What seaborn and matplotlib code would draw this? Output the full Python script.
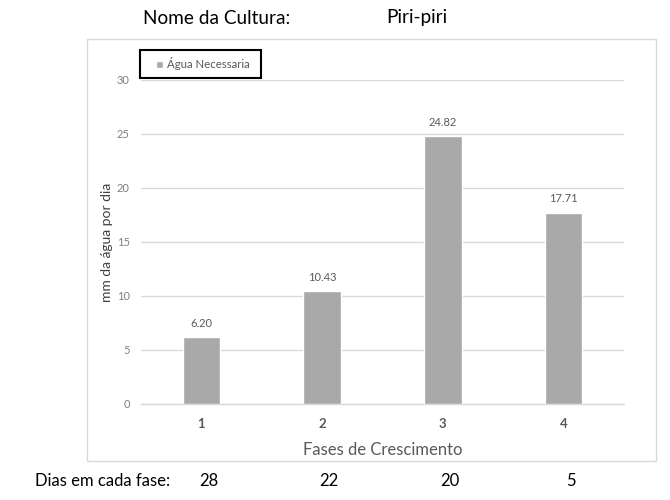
import matplotlib
matplotlib.use("Agg")
import matplotlib.pyplot as plt
from matplotlib.patches import Patch, Rectangle
import seaborn as sns
import pandas as pd

# Dados da cultura
cultura = "Piri-piri"
fases = ["1", "2", "3", "4"]
agua_necessaria = [6.20, 10.43, 24.82, 17.71]
dias_por_fase = [28, 22, 20, 5]
y_ticks = [0, 5, 10, 15, 20, 25, 30]

df = pd.DataFrame({"Fase": fases, "Água Necessaria": agua_necessaria})

sns.set_theme(style="white")
plt.rcParams["font.family"] = ["Lato", "DejaVu Sans"]

W, H = 670, 500
fig = plt.figure(figsize=(W / 100, H / 100), dpi=100)
fig.patch.set_facecolor("white")

# área do gráfico (em píxeis: x 141-624, y 80-404)
ax = fig.add_axes([141 / W, 1 - 404 / H, 483 / W, 324 / H])

bar_color = "#A9A9A9"
sns.barplot(data=df, x="Fase", y="Água Necessaria", color=bar_color,
            width=0.31, saturation=1, ax=ax, zorder=3)

ax.set_ylim(0, 30)
ax.set_xlim(-0.5, len(fases) - 0.5)
ax.set_yticks(y_ticks)
ax.set_yticklabels([str(t) for t in y_ticks], fontsize=8, color="#7F7F7F")
ax.tick_params(axis="y", length=0, pad=8)
ax.tick_params(axis="x", length=0, pad=10)
for lbl in ax.get_xticklabels():
    lbl.set_fontsize(9.5)
    lbl.set_fontweight("bold")
    lbl.set_color("#595959")

ax.grid(axis="y", color="#D9D9D9", linewidth=1, zorder=0)
for side in ["top", "right", "left"]:
    ax.spines[side].set_visible(False)
ax.spines["bottom"].set_color("#D9D9D9")
ax.spines["bottom"].set_linewidth(1)

ax.set_xlabel("Fases de Crescimento", fontsize=12, color="#595959", labelpad=9)
ax.set_ylabel("mm da água por dia", fontsize=10, color="#404040", labelpad=3)

# rótulos de valor acima das barras
for i, v in enumerate(agua_necessaria):
    ax.annotate(f"{v:.2f}", (i, v), xytext=(0, 6), textcoords="offset points",
                ha="center", va="bottom", fontsize=8, color="#595959")

# legenda (sem moldura própria; a caixa é desenhada à parte)
leg = ax.legend(handles=[Patch(facecolor=bar_color, label="Água Necessaria")],
                loc="center left", bbox_to_anchor=(156 / W, 1 - 64 / H),
                bbox_transform=fig.transFigure, fontsize=8.2, frameon=False,
                handlelength=0.6, handleheight=0.6,
                handletextpad=0.35, borderpad=0, borderaxespad=0)
for t in leg.get_texts():
    t.set_color("#595959")
fig.patches.append(Rectangle((140 / W, 1 - 78 / H), 121 / W, 28 / H,
                             transform=fig.transFigure, fill=False,
                             edgecolor="#000000", linewidth=1.5, zorder=5))

# moldura da área do gráfico
fig.patches.append(Rectangle((87 / W, 1 - 461 / H), (656 - 87) / W, (461 - 39) / H,
                             transform=fig.transFigure, fill=False,
                             edgecolor="#D9D9D9", linewidth=1))

# título
fig.text(217 / W, 1 - 18 / H, "Nome da Cultura:", ha="center", va="center",
         fontsize=13.7, color="#000000")
fig.text(417 / W, 1 - 18 / H, cultura, ha="center", va="center",
         fontsize=13.7, color="#000000")

# dias em cada fase
fig.text(35 / W, 1 - 481 / H, "Dias em cada fase:", ha="left", va="center",
         fontsize=12, color="#000000")
for i, d in enumerate(dias_por_fase):
    x_pix = 141 + (i + 0.5) * 483 / len(fases) + 7
    fig.text(x_pix / W, 1 - 481 / H, str(d), ha="center", va="center",
             fontsize=12, color="#000000")

fig.savefig("out.png", dpi=100)
